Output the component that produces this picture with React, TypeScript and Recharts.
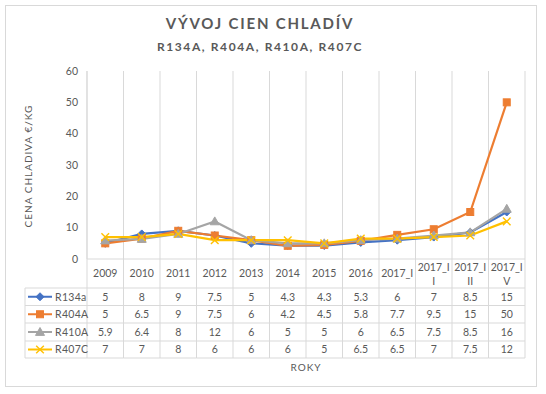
import React from 'react';
import { LineChart, Line, XAxis, YAxis, CartesianGrid } from 'recharts';

const categories = ['2009', '2010', '2011', '2012', '2013', '2014', '2015', '2016', '2017_I', '2017_II', '2017_III', '2017_IV'];
const seriesNames = ['R134a', 'R404A', 'R410A', 'R407C'];
const r134a = [5, 8, 9, 7.5, 5, 4.3, 4.3, 5.3, 6, 7, 8.5, 15];
const r404a = [5, 6.5, 9, 7.5, 6, 4.2, 4.5, 5.8, 7.7, 9.5, 15, 50];
const r410a = [5.9, 6.4, 8, 12, 6, 5, 5, 6, 6.5, 7.5, 8.5, 16];
const r407c = [7, 7, 8, 6, 6, 6, 5, 6.5, 6.5, 7, 7.5, 12];
const yTicks = [0, 10, 20, 30, 40, 50, 60];

const seriesValues = [r134a, r404a, r410a, r407c];
const colors = ['#4472C4', '#ED7D31', '#A5A5A5', '#FFC000'];
const markers = ['diamond', 'square', 'triangle', 'x'];

const data = categories.map((c, i) => {
  const row: any = { cat: c };
  seriesNames.forEach((n, s) => {
    row[n] = seriesValues[s][i];
  });
  return row;
});

const W = 546;
const H = 394;
const PLOT_LEFT = 87;
const PLOT_RIGHT = 525;
const PLOT_TOP = 71;
const PLOT_BOTTOM = 259;
const BW = (PLOT_RIGHT - PLOT_LEFT) / categories.length;
const TABLE_LEFT = 25;
const ROW_LINES = [288, 305.5, 323, 341, 358];
const GRID = '#D9D9D9';
const TXT = '#595959';
const FONT = 'Lato, "Open Sans", sans-serif';

function Marker({ type, cx, cy, color }: any) {
  if (cx == null || cy == null) return null;
  if (type === 'diamond') {
    const r = 4;
    return <polygon points={`${cx},${cy - r} ${cx + r},${cy} ${cx},${cy + r} ${cx - r},${cy}`} fill={color} stroke={color} />;
  }
  if (type === 'square') {
    const r = 3.5;
    return <rect x={cx - r} y={cy - r} width={2 * r} height={2 * r} fill={color} stroke={color} />;
  }
  if (type === 'triangle') {
    const r = 4.5;
    return <polygon points={`${cx},${cy - r} ${cx + r},${cy + r * 0.75} ${cx - r},${cy + r * 0.75}`} fill={color} stroke={color} />;
  }
  const r = 3.8;
  return (
    <g stroke={color} strokeWidth={1.4}>
      <line x1={cx - r} y1={cy - r} x2={cx + r} y2={cy + r} />
      <line x1={cx - r} y1={cy + r} x2={cx + r} y2={cy - r} />
    </g>
  );
}

function wrapLabel(label: string): string[] {
  if (label.length <= 6) return [label];
  return [label.slice(0, 6), label.slice(6)];
}

function TableTick(props: any) {
  const { x, payload } = props;
  const index = payload.index;
  const label = String(payload.value);
  const left = x - BW / 2;
  const right = x + BW / 2;
  const lines = wrapLabel(label);
  const rowCenters = ROW_LINES.slice(0, -1).map((y, i) => (y + ROW_LINES[i + 1]) / 2);
  return (
    <g>
      <line x1={right} y1={PLOT_BOTTOM} x2={right} y2={ROW_LINES[ROW_LINES.length - 1]} stroke={GRID} />
      {index === 0 && (
        <line x1={left} y1={PLOT_BOTTOM} x2={left} y2={ROW_LINES[ROW_LINES.length - 1]} stroke={GRID} />
      )}
      {ROW_LINES.map((y, i) => (
        <line key={i} x1={left} y1={y} x2={right} y2={y} stroke={GRID} />
      ))}
      {lines.length === 1 ? (
        <text x={x} y={277} textAnchor="middle" fontSize={10.5} fill={TXT} fontFamily={FONT}>
          {lines[0]}
        </text>
      ) : (
        <text textAnchor="middle" fontSize={10.5} fill={TXT} fontFamily={FONT}>
          <tspan x={x} y={271}>{lines[0]}</tspan>
          <tspan x={x} y={285}>{lines[1]}</tspan>
        </text>
      )}
      {seriesValues.map((vals, s) => (
        <text key={s} x={x} y={rowCenters[s] + 3.8} textAnchor="middle" fontSize={10.5} fill={TXT} fontFamily={FONT}>
          {vals[index]}
        </text>
      ))}
      {index === 0 && (
        <g>
          <line x1={TABLE_LEFT} y1={ROW_LINES[0]} x2={TABLE_LEFT} y2={ROW_LINES[ROW_LINES.length - 1]} stroke={GRID} />
          {ROW_LINES.map((y, i) => (
            <line key={'l' + i} x1={TABLE_LEFT} y1={y} x2={left} y2={y} stroke={GRID} />
          ))}
          {seriesNames.map((n, s) => (
            <g key={'n' + s}>
              <line x1={28} y1={rowCenters[s]} x2={52} y2={rowCenters[s]} stroke={colors[s]} strokeWidth={2} />
              <Marker type={markers[s]} cx={40} cy={rowCenters[s]} color={colors[s]} />
              <text x={55} y={rowCenters[s] + 3.8} fontSize={10.5} fill={TXT} fontFamily={FONT} letterSpacing={0.3}>
                {n}
              </text>
            </g>
          ))}
        </g>
      )}
    </g>
  );
}

export default function App() {
  return (
    <div style={{ position: 'absolute', left: 0, top: 0, width: W, height: H, background: '#fff', fontFamily: FONT }}>
      <div style={{ position: 'absolute', left: 5, top: 5, width: 532, height: 382, border: `1px solid ${GRID}`, boxSizing: 'border-box' }} />
      <div style={{ position: 'absolute', left: 0, top: 0 }}>
        <LineChart width={W} height={H} data={data} margin={{ top: PLOT_TOP, right: W - PLOT_RIGHT, bottom: 0, left: 0 }}>
          <CartesianGrid
            horizontal={false}
            stroke={GRID}
            verticalCoordinatesGenerator={({ offset }: any) =>
              Array.from({ length: categories.length + 1 }, (_, i) => offset.left + (i * offset.width) / categories.length)
            }
          />
          <XAxis
            dataKey="cat"
            interval={0}
            height={H - PLOT_BOTTOM}
            padding={{ left: BW / 2, right: BW / 2 }}
            axisLine={{ stroke: GRID }}
            tickLine={false}
            tick={(p: any) => <TableTick key={p.index} {...p} />}
          />
          <YAxis
            width={PLOT_LEFT}
            domain={[0, 60]}
            ticks={yTicks}
            interval={0}
            axisLine={{ stroke: GRID }}
            tickLine={false}
            tickSize={0}
            tickMargin={9}
            tick={{ fontSize: 10.5, fill: TXT, fontFamily: FONT }}
          />
          {seriesNames.map((n, s) => (
            <Line
              key={n}
              dataKey={n}
              stroke={colors[s]}
              strokeWidth={2.2}
              isAnimationActive={false}
              dot={(p: any) => <Marker key={p.index} type={markers[s]} cx={p.cx} cy={p.cy} color={colors[s]} />}
              activeDot={false}
            />
          ))}
        </LineChart>
      </div>
      <div style={{ position: 'absolute', left: 0, width: 520, top: 14, textAlign: 'center', fontSize: 15, fontWeight: 700, letterSpacing: 1.8, color: TXT }}>
        VÝVOJ CIEN CHLADÍV
      </div>
      <div style={{ position: 'absolute', left: 0, width: 520, top: 39, textAlign: 'center', fontSize: 12, fontWeight: 700, letterSpacing: 1.6, color: TXT }}>
        R134A, R404A, R410A, R407C
      </div>
      <div
        style={{
          position: 'absolute',
          left: 28,
          top: 166,
          transform: 'translate(-50%, -50%) rotate(-90deg)',
          whiteSpace: 'nowrap',
          fontSize: 10,
          letterSpacing: 1,
          color: TXT,
        }}
      >
        CENA CHLADIVA €/KG
      </div>
      <div style={{ position: 'absolute', left: PLOT_LEFT, width: PLOT_RIGHT - PLOT_LEFT, top: 361, textAlign: 'center', fontSize: 10, letterSpacing: 1, color: TXT }}>
        ROKY
      </div>
    </div>
  );
}
